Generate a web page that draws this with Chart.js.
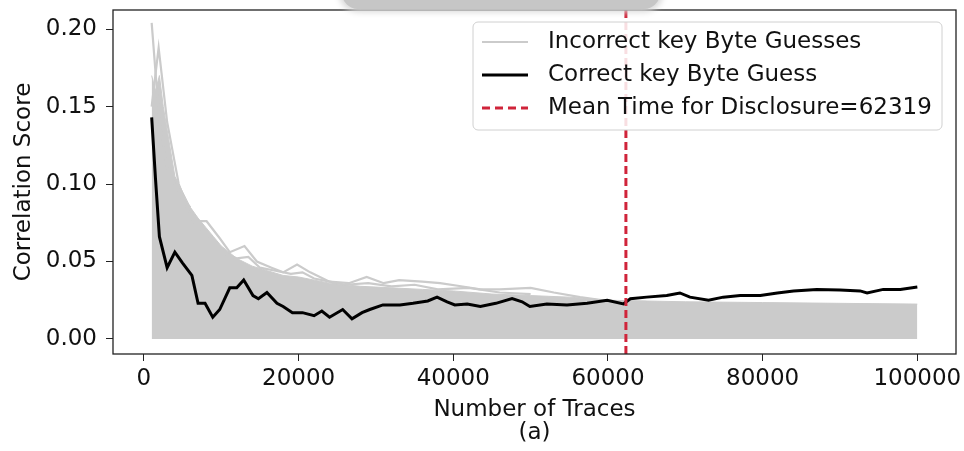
<!DOCTYPE html>
<html>
<head>
<meta charset="utf-8">
<script src="https://cdn.jsdelivr.net/npm/chart.js@4.4.0/dist/chart.umd.min.js"></script>
<style>
  html, body { margin: 0; padding: 0; background: #fff; overflow: hidden; }
  #wrap { position: absolute; left: 0; top: 0; width: 964px; height: 451px; }
  #blob { position: absolute; left: 342px; top: -12px; width: 318px; height: 21px; background: #c6c6c6; border-radius: 0 0 16px 16px; box-shadow: 0 0 6px 3px #d8d8d8; }
</style>
</head>
<body>
<div id="wrap"><canvas id="chart" width="964" height="451"></canvas></div>
<div id="blob"></div>
<script>
// Eixos
const xMin = -4000, xMax = 105000;
const yMin = -0.0097, yMax = 0.2123;
const xTicks = [0, 20000, 40000, 60000, 80000, 100000];
const yTicks = [0, 0.05, 0.10, 0.15, 0.20];
const meanTime = 62319;

// Chave correta
const correctX = [1000, 1500, 2000, 3000, 4000, 5000, 6200, 7000, 7900, 8900, 9800, 11100, 12000, 12900, 14100, 14800, 15900, 17200, 18000, 19200, 20500, 22000, 23000, 24000, 25700, 26900, 28200, 29200, 30900, 33100, 34800, 36700, 37900, 39200, 40200, 41800, 43500, 45500, 47600, 48900, 49900, 52100, 54700, 57300, 59900, 62000, 62900, 65000, 67600, 69300, 70600, 73000, 74900, 77100, 79700, 81900, 84000, 87000, 90000, 92600, 93500, 95600, 97800, 100000];
const correctY = [0.143, 0.103, 0.066, 0.046, 0.056, 0.049, 0.041, 0.023, 0.023, 0.014, 0.019, 0.033, 0.033, 0.038, 0.028, 0.026, 0.030, 0.023, 0.021, 0.017, 0.017, 0.015, 0.018, 0.014, 0.019, 0.013, 0.017, 0.019, 0.022, 0.022, 0.023, 0.0245, 0.027, 0.024, 0.022, 0.0226, 0.021, 0.023, 0.026, 0.024, 0.021, 0.0226, 0.022, 0.023, 0.025, 0.0226, 0.026, 0.027, 0.028, 0.0297, 0.027, 0.025, 0.027, 0.028, 0.028, 0.0297, 0.031, 0.032, 0.0316, 0.031, 0.0297, 0.032, 0.032, 0.0335];

// Chaves incorretas: massa cinza
const wrongFillX = [1000, 1500, 2000, 2500, 3000, 3500, 4000, 5000, 6000, 7000, 8000, 9000, 10000, 12000, 14000, 16000, 18000, 20000, 24000, 28000, 32000, 36000, 40000, 45000, 50000, 55000, 60000, 65000, 70000, 80000, 90000, 100000];
const wrongFillY = [0.17, 0.16, 0.17, 0.15, 0.135, 0.12, 0.105, 0.095, 0.085, 0.078, 0.072, 0.066, 0.06, 0.052, 0.047, 0.044, 0.041, 0.040, 0.036, 0.034, 0.033, 0.032, 0.031, 0.029, 0.028, 0.027, 0.025, 0.0245, 0.024, 0.0235, 0.023, 0.0225];

// Chaves incorretas: curvas de cima
const wrongAX = [1000, 2000, 3000, 4000, 5000, 6000];
const wrongAY = [0.204, 0.14, 0.11, 0.10, 0.09, 0.085];
const wrongBX = [1000, 1900, 3000, 4500, 6300, 8100, 9800, 11100, 13000, 14600, 16500, 18000, 19800, 21500, 24000, 26500, 28800, 31000, 33000, 36000, 38300, 41000, 43500, 46000, 50000, 53000, 56400, 60700, 65000];
const wrongBY = [0.15, 0.188, 0.14, 0.10, 0.076, 0.076, 0.065, 0.056, 0.060, 0.050, 0.046, 0.043, 0.048, 0.043, 0.037, 0.036, 0.040, 0.036, 0.038, 0.037, 0.036, 0.034, 0.032, 0.032, 0.033, 0.030, 0.027, 0.024, 0.024];
const wrongCX = [5000, 7000, 9000, 10500, 12000, 13500, 15000, 17000, 19000, 20500, 22000, 24000, 26000, 29000, 32000, 35000, 38000, 42000, 46000, 50000];
const wrongCY = [0.09, 0.07, 0.062, 0.055, 0.052, 0.053, 0.046, 0.044, 0.042, 0.043, 0.039, 0.037, 0.035, 0.036, 0.034, 0.035, 0.032, 0.033, 0.030, 0.029];

const gray = '#cbcbcb';
const red = '#d0243a';

function pts(xs, ys) {
    return xs.map((x, i) => ({ x: x, y: ys[i] }));
}

Chart.defaults.font.family = 'DejaVu Sans';
Chart.defaults.font.size = 23;
Chart.defaults.color = '#111';

// Moldura e legenda
const framePlugin = {
    id: 'frame',
    afterDraw(chart) {
        const c = chart.ctx, a = chart.chartArea;
        c.save();
        c.strokeStyle = '#222';
        c.lineWidth = 1.3;
        c.strokeRect(a.left, a.top, a.right - a.left, a.bottom - a.top);

        // legenda
        const bx = 473, by = 22, bw = 469, bh = 108;
        c.fillStyle = 'rgba(255,255,255,0.85)';
        c.strokeStyle = '#d0d0d0';
        c.lineWidth = 1;
        c.beginPath();
        c.roundRect(bx, by, bw, bh, 5);
        c.fill();
        c.stroke();
        const rows = [
            { text: 'Incorrect key Byte Guesses', color: gray, width: 2.2, dash: [] },
            { text: 'Correct key Byte Guess', color: '#000', width: 3, dash: [] },
            { text: 'Mean Time for Disclosure=' + meanTime, color: red, width: 3, dash: [8, 5] }
        ];
        c.font = '23px "DejaVu Sans"';
        c.textBaseline = 'middle';
        rows.forEach((r, i) => {
            const y = 42 + i * 33;
            c.strokeStyle = r.color;
            c.lineWidth = r.width;
            c.setLineDash(r.dash);
            c.beginPath();
            c.moveTo(482, y);
            c.lineTo(528, y);
            c.stroke();
            c.setLineDash([]);
            c.fillStyle = '#111';
            c.fillText(r.text, 548, y);
        });
        c.restore();
    }
};

const ctx = document.getElementById('chart').getContext('2d');
const chart = new Chart(ctx, {
    type: 'line',
    data: {
        datasets: [
            {
                label: 'Mean Time for Disclosure=' + meanTime,
                data: [{ x: meanTime, y: yMin }, { x: meanTime, y: yMax }],
                borderColor: red,
                borderWidth: 3,
                borderDash: [8, 4],
                pointRadius: 0
            },
            {
                label: 'Correct key Byte Guess',
                data: pts(correctX, correctY),
                borderColor: '#000',
                borderWidth: 3,
                pointRadius: 0
            },
            {
                label: 'Incorrect key Byte Guesses',
                data: pts(wrongAX, wrongAY),
                borderColor: gray,
                borderWidth: 2.2,
                pointRadius: 0
            },
            {
                label: 'Incorrect key Byte Guesses',
                data: pts(wrongBX, wrongBY),
                borderColor: gray,
                borderWidth: 2.2,
                pointRadius: 0
            },
            {
                label: 'Incorrect key Byte Guesses',
                data: pts(wrongCX, wrongCY),
                borderColor: gray,
                borderWidth: 2.2,
                pointRadius: 0
            },
            {
                label: 'Incorrect key Byte Guesses',
                data: pts(wrongFillX, wrongFillY),
                borderColor: gray,
                backgroundColor: gray,
                borderWidth: 1,
                fill: 'origin',
                pointRadius: 0
            }
        ]
    },
    options: {
        responsive: false,
        animation: false,
        layout: { padding: { left: 0, top: 10, right: 8, bottom: 0 } },
        plugins: { legend: { display: false }, tooltip: { enabled: false } },
        scales: {
            x: {
                type: 'linear',
                min: xMin,
                max: xMax,
                afterFit(scale) {
                    scale.height = 97;
                    scale.paddingLeft = 0;
                    scale.paddingRight = 0;
                },
                afterBuildTicks(scale) { scale.ticks = xTicks.map(v => ({ value: v })); },
                ticks: { padding: 4, maxRotation: 0, callback: v => String(v) },
                grid: { drawOnChartArea: false, drawTicks: true, tickLength: 7, color: '#222' },
                border: { display: false },
                title: {
                    display: true,
                    text: ['Number of Traces', '(a)'],
                    font: { size: 23, lineHeight: 1.0 },
                    padding: { top: 0, bottom: 6 }
                }
            },
            y: {
                min: yMin,
                max: yMax,
                afterFit(scale) {
                    scale.width = 113;
                    scale.paddingTop = 0;
                    scale.paddingBottom = 0;
                },
                afterBuildTicks(scale) { scale.ticks = yTicks.map(v => ({ value: v })); },
                ticks: { padding: 9, callback: v => v.toFixed(2) },
                grid: { drawOnChartArea: false, drawTicks: true, tickLength: 7, color: '#222' },
                border: { display: false },
                title: {
                    display: true,
                    text: 'Correlation Score',
                    font: { size: 23, lineHeight: 1.2 },
                    padding: { top: 10, bottom: 0 }
                }
            }
        }
    },
    plugins: [framePlugin]
});
</script>
</body>
</html>
